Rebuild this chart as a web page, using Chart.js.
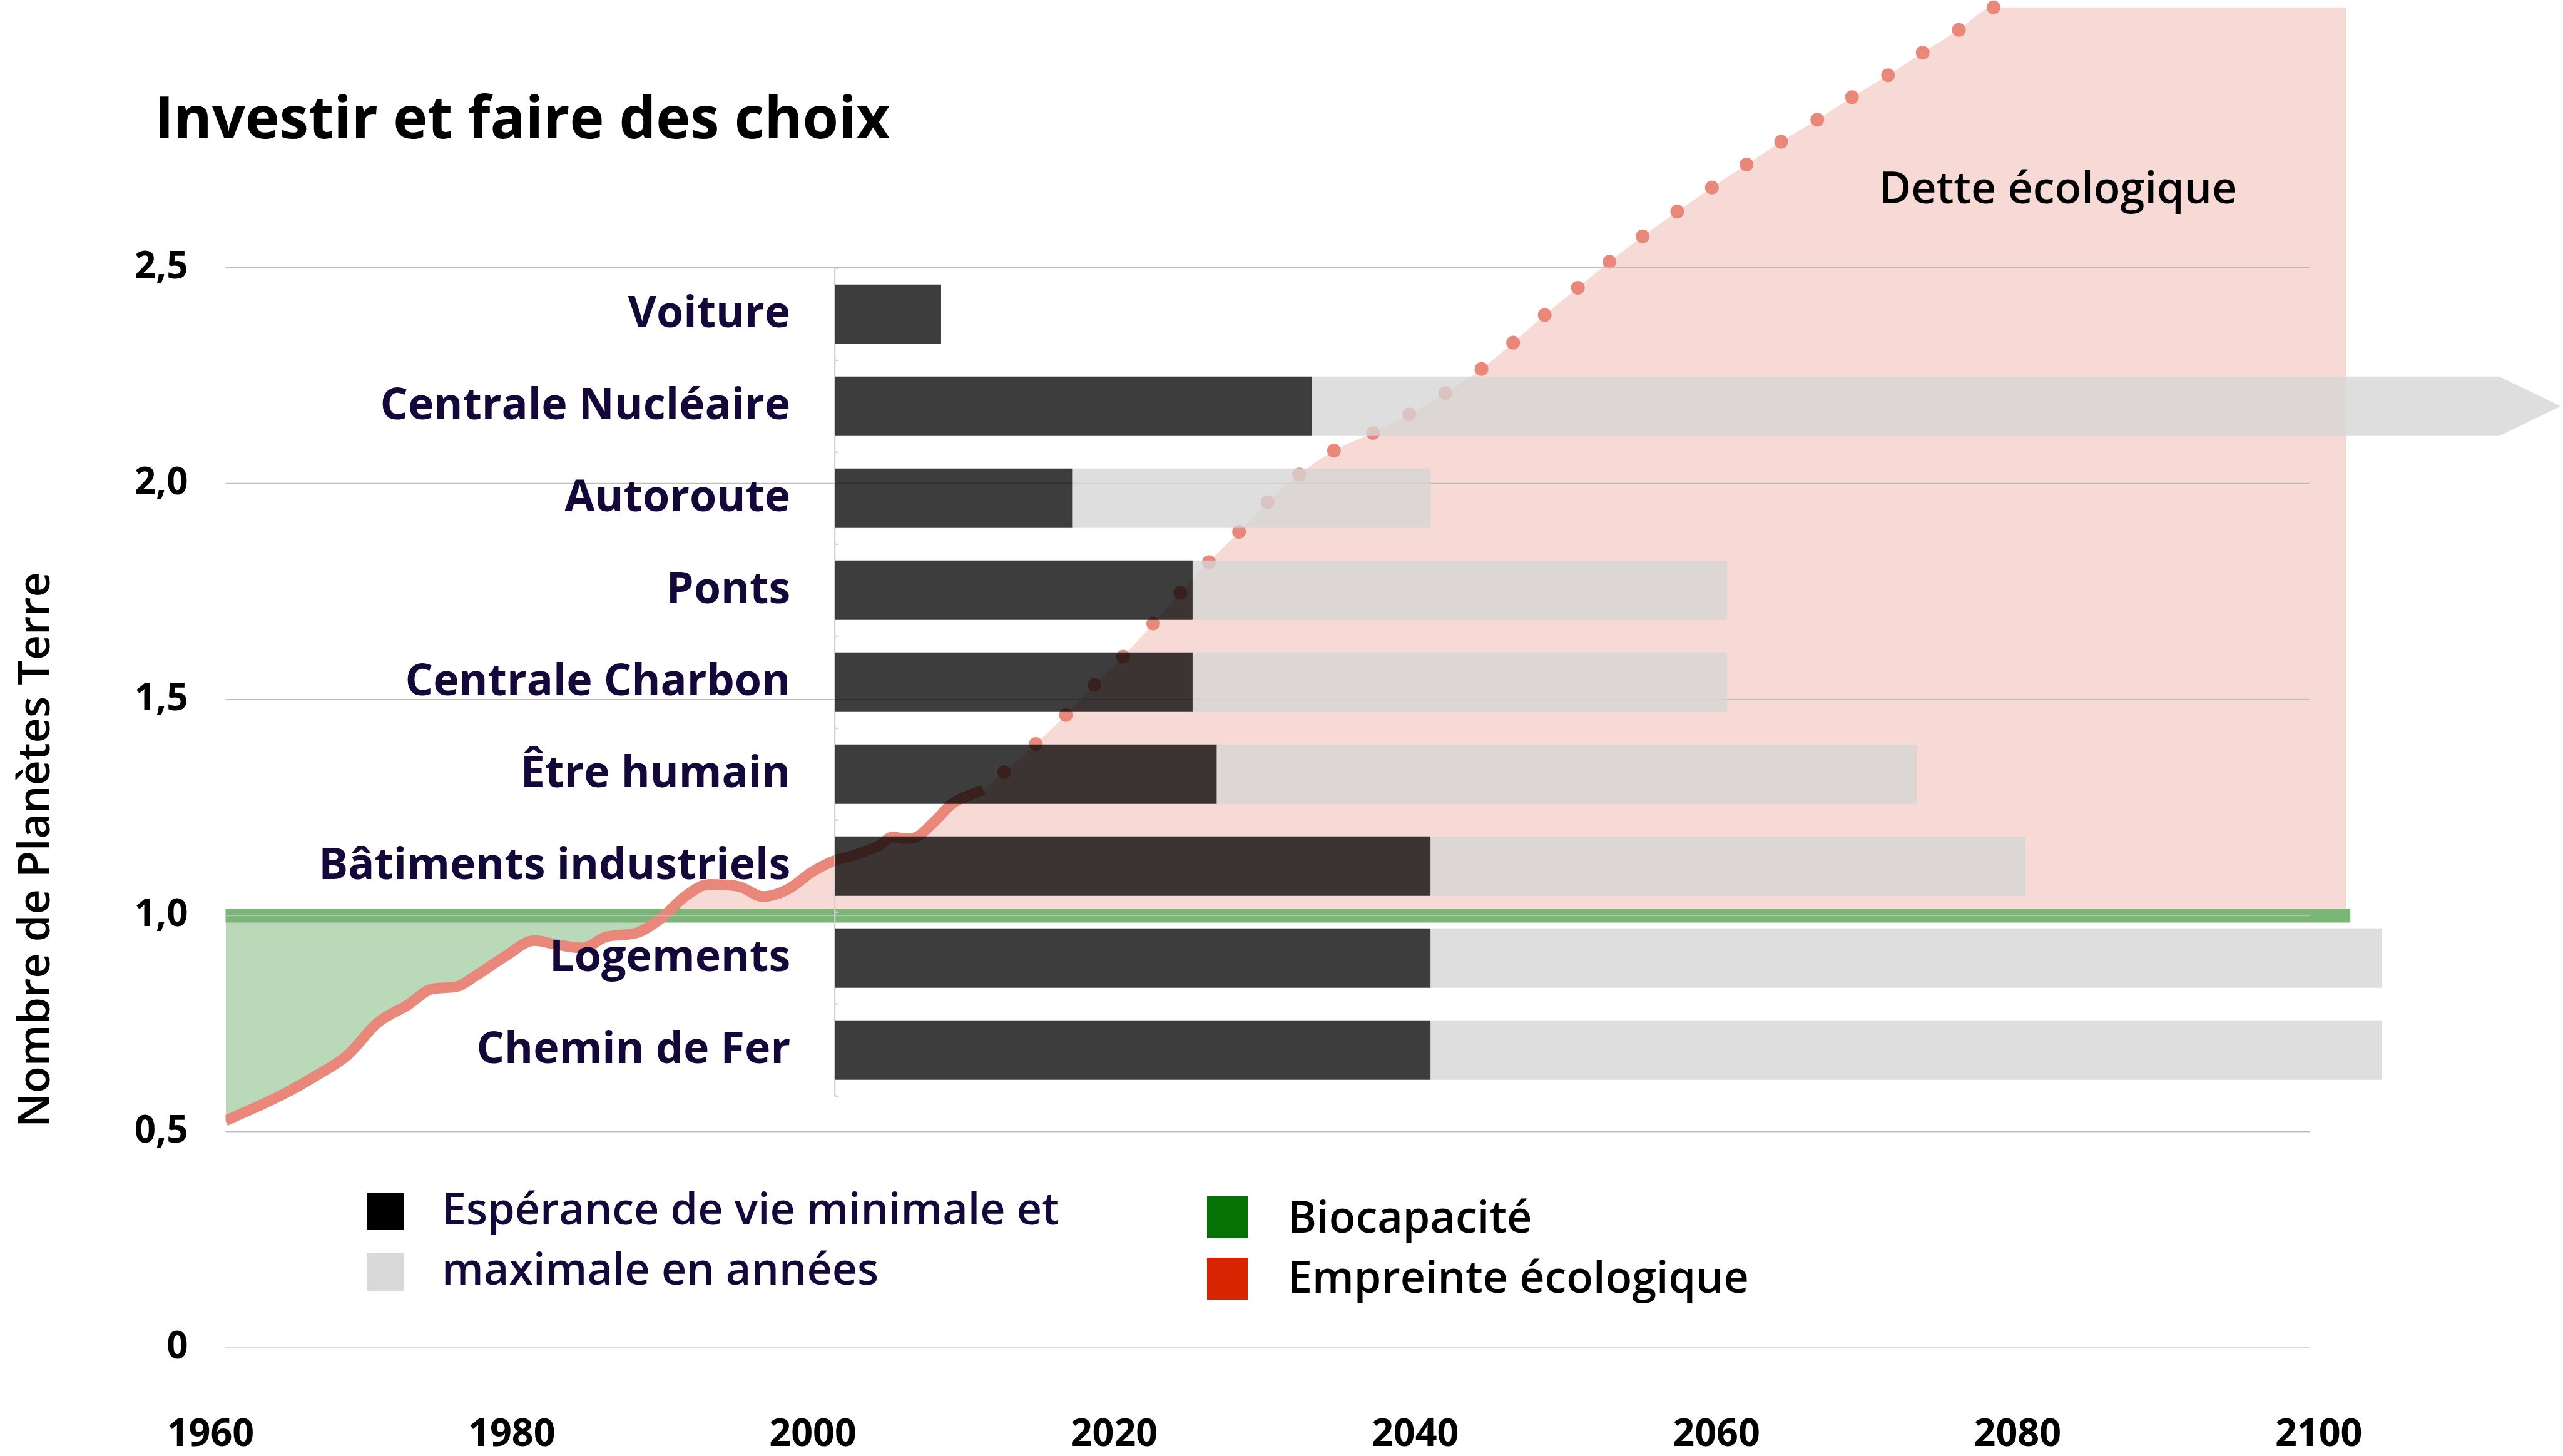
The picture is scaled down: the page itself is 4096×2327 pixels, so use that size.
<!DOCTYPE html>
<html>
<head>
  <title>Investir et faire des choix</title>
  <script src="https://cdn.jsdelivr.net/npm/chart.js"></script>
  <style>
    body {
      margin: 0;
      background-color: #fff;
    }

    .chart-container {
      position: relative;
      width: 4096px;
      height: 2327px;
    }
  </style>
</head>
<body>
<div class="chart-container">
  <canvas id="chart"></canvas>
</div>

<script>
  // Empreinte écologique, measured years (nombre de planètes Terre)
  const historyYears = [1961.0, 1964.7, 1967.1, 1969.1, 1971.1, 1973.1, 1974.7, 1976.3, 1977.5, 1979.5,
    1981.5, 1983.1, 1984.7, 1986.3, 1988.3, 1989.9, 1991.5, 1993.1, 1995.1, 1996.7,
    1998.3, 2000.0, 2001.5, 2002.6, 2004.4, 2005.3, 2006.1, 2006.9, 2008.0, 2009.3, 2011.3];
  const historyValues = [0.525, 0.584, 0.631, 0.677, 0.752, 0.793, 0.830, 0.835, 0.858, 0.904,
    0.942, 0.932, 0.925, 0.951, 0.960, 0.993, 1.044, 1.072, 1.067, 1.044,
    1.060, 1.102, 1.128, 1.138, 1.162, 1.182, 1.178, 1.182, 1.215, 1.260, 1.291];

  // projection (dotted)
  const projectionYears = [2012.7, 2014.8, 2016.8, 2018.7, 2020.6, 2022.6, 2024.4, 2026.3, 2028.3, 2030.2,
    2032.3, 2034.6, 2037.2, 2039.6, 2042.0, 2044.4, 2046.5, 2048.6, 2050.8, 2052.9,
    2055.1, 2057.4, 2059.7, 2062.0, 2064.3, 2066.7, 2069.0, 2071.4, 2073.7, 2076.1, 2078.4];
  const projectionValues = [1.332, 1.397, 1.464, 1.534, 1.599, 1.676, 1.747, 1.818, 1.888, 1.957,
    2.021, 2.076, 2.117, 2.160, 2.209, 2.265, 2.326, 2.390, 2.453, 2.513,
    2.572, 2.629, 2.685, 2.738, 2.791, 2.842, 2.894, 2.945, 2.997, 3.050, 3.102];
  const debtEndYear = 2101.8;

  const biocapacityYears = [1961, 2102.1];
  const biocapacityValue = 1;

  // life spans of investments, in calendar years
  const categories = ['Voiture', 'Centrale Nucléaire', 'Autoroute', 'Ponts', 'Centrale Charbon',
    'Être humain', 'Bâtiments industriels', 'Logements', 'Chemin de Fer'];
  const barStart = 2001.5;
  const minLifeEnd = [2008.5, 2033.1, 2017.2, 2025.2, 2025.2, 2026.8, 2041.0, 2041.0, 2041.0];
  const maxLifeEnd = [null, 2112.0, 2041.0, 2060.7, 2060.7, 2073.3, 2080.5, 2104.2, 2104.2];
  const openEnded = [false, true, false, false, false, false, false, false, false];

  const yTickValues = [0, 0.5, 1, 1.5, 2, 2.5];
  const yTickLabels = ['0', '0,5', '1,0', '1,5', '2,0', '2,5'];
  const xTickValues = [1960, 1980, 2000, 2020, 2040, 2060, 2080, 2100];

  const FONT = 'Open Sans';
  const navy = '#14083a';
  const salmon = '#e9887a';
  const darkBar = 'rgba(0,0,0,0.76)';
  const greyBar = 'rgba(213,213,213,0.78)';
  const gridEndYear = 2099.4;

  Chart.defaults.font.family = FONT;

  const history = historyYears.map((x, i) => ({x, y: historyValues[i]}));
  const projection = projectionYears.map((x, i) => ({x, y: projectionValues[i]}));
  const debtArea = [...history, ...projection,
    {x: debtEndYear, y: projectionValues[projectionValues.length - 1]}];

  const minData = categories.map((c, i) => ({x: [barStart, minLifeEnd[i]], y: i}));
  const maxData = categories
    .map((c, i) => maxLifeEnd[i] ? {x: [minLifeEnd[i], maxLifeEnd[i]], y: i} : null)
    .filter(Boolean);

  const decorations = {
    id: 'decorations',
    beforeDraw(chart) {
      chart.$gridDone = false;
    },
    // grid lines sit above the fills but under the bars
    beforeDatasetDraw(chart, args) {
      if (args.meta.type !== 'bar' || chart.$gridDone) return;
      chart.$gridDone = true;
      const {ctx, chartArea, scales: {x, y, yBars}} = chart;
      const right = x.getPixelForValue(gridEndYear);
      ctx.save();
      yTickValues.forEach(v => {
        const py = y.getPixelForValue(v);
        ctx.strokeStyle = v === 0 ? '#dadada' : '#bdbdbd';
        ctx.lineWidth = v === 0 ? 2.6 : 1.8;
        ctx.beginPath();
        ctx.moveTo(chartArea.left, py);
        ctx.lineTo(right, py);
        ctx.stroke();
      });
      // baseline of the life span bars
      const bx = x.getPixelForValue(barStart) - 1;
      ctx.strokeStyle = '#d0d0d0';
      ctx.lineWidth = 2.2;
      ctx.beginPath();
      ctx.moveTo(bx, yBars.getPixelForValue(-0.5));
      ctx.lineTo(bx, yBars.getPixelForValue(categories.length - 0.5));
      ctx.stroke();
      for (let k = 0; k <= categories.length; k++) {
        const py = yBars.getPixelForValue(k - 0.5);
        ctx.beginPath();
        ctx.moveTo(bx, py);
        ctx.lineTo(bx + 6, py);
        ctx.stroke();
      }
      ctx.restore();
    },
    // arrow head on open ended spans
    afterDatasetDraw(chart, args) {
      const ds = chart.data.datasets[args.index];
      if (ds.label !== 'maximale') return;
      const ctx = chart.ctx;
      ds.data.forEach((d, j) => {
        if (!openEnded[d.y]) return;
        const {x, y, height} = args.meta.data[j].getProps(['x', 'y', 'height'], true);
        ctx.save();
        ctx.fillStyle = greyBar;
        ctx.beginPath();
        ctx.moveTo(x, y - height / 2);
        ctx.lineTo(x + 98, y);
        ctx.lineTo(x, y + height / 2);
        ctx.closePath();
        ctx.fill();
        ctx.restore();
      });
    },
    afterDraw(chart) {
      const {ctx, scales: {x, yBars}} = chart;
      ctx.save();
      ctx.textBaseline = 'alphabetic';

      // category names
      ctx.fillStyle = navy;
      ctx.textAlign = 'right';
      ctx.font = `700 70px "${FONT}"`;
      const lx = x.getPixelForValue(barStart) - 72;
      categories.forEach((c, i) => ctx.fillText(c, lx, yBars.getPixelForValue(i) + 21));

      // title and annotation
      ctx.textAlign = 'left';
      ctx.fillStyle = '#000';
      ctx.font = `700 93px "${FONT}"`;
      ctx.fillText('Investir et faire des choix', 247, 221);
      ctx.font = `600 70px "${FONT}"`;
      ctx.fillText('Dette écologique', 3003, 325);

      // legend
      ctx.fillStyle = '#000';
      ctx.fillRect(586, 1906, 60, 60);
      ctx.fillStyle = '#d9d9d9';
      ctx.fillRect(586, 2003, 60, 60);
      ctx.fillStyle = '#047204';
      ctx.fillRect(1929, 1912, 65, 67);
      ctx.fillStyle = '#d92400';
      ctx.fillRect(1929, 2010, 65, 67);
      ctx.font = `600 70px "${FONT}"`;
      ctx.fillStyle = navy;
      ctx.fillText('Espérance de vie minimale et', 706, 1957);
      ctx.fillText('maximale en années', 706, 2053);
      ctx.fillStyle = '#000';
      ctx.fillText('Biocapacité', 2058, 1970);
      ctx.fillText('Empreinte écologique', 2058, 2066);

      // y axis title
      ctx.translate(79, 1358);
      ctx.rotate(-Math.PI / 2);
      ctx.textAlign = 'center';
      ctx.font = `600 70px "${FONT}"`;
      ctx.fillText('Nombre de Planètes Terre', 0, 0);
      ctx.restore();
    }
  };

  new Chart(document.getElementById('chart'), {
    type: 'line',
    data: {
      datasets: [
        {
          label: 'minimale', type: 'bar', indexAxis: 'y', xAxisID: 'x', yAxisID: 'yBars',
          data: minData, backgroundColor: darkBar, borderWidth: 0,
          barThickness: 94.5, grouped: false, clip: false, order: 0
        },
        {
          label: 'maximale', type: 'bar', indexAxis: 'y', xAxisID: 'x', yAxisID: 'yBars',
          data: maxData, backgroundColor: greyBar, borderWidth: 0,
          barThickness: 94.5, grouped: false, clip: false, order: 1
        },
        {
          label: 'Projection', xAxisID: 'x', yAxisID: 'y', data: projection,
          showLine: false, pointRadius: 11, pointBackgroundColor: salmon,
          pointBorderWidth: 0, clip: false, order: 2
        },
        {
          label: 'Empreinte écologique', xAxisID: 'x', yAxisID: 'y', data: history,
          borderColor: salmon, borderWidth: 17, pointRadius: 0,
          cubicInterpolationMode: 'monotone', fill: false, order: 3
        },
        {
          label: 'Biocapacité', xAxisID: 'x', yAxisID: 'y',
          data: biocapacityYears.map(x => ({x, y: biocapacityValue})),
          borderColor: 'rgb(122,182,118)', borderWidth: 22.6, borderCapStyle: 'butt',
          pointRadius: 0, fill: false, clip: false, order: 4
        },
        {
          label: 'Dette écologique', xAxisID: 'x', yAxisID: 'y', data: debtArea,
          borderWidth: 0, borderColor: 'rgba(0,0,0,0)', pointRadius: 0,
          cubicInterpolationMode: 'monotone',
          fill: {target: {value: biocapacityValue}, above: '#f7dad6', below: '#b9d9b9'},
          order: 5
        }
      ]
    },
    options: {
      responsive: true,
      maintainAspectRatio: false,
      animation: false,
      events: [],
      layout: {autoPadding: false, padding: {left: 0, right: 347, top: 0, bottom: 0}},
      plugins: {
        legend: {display: false},
        tooltip: {enabled: false}
      },
      scales: {
        x: {
          type: 'linear', axis: 'x', position: 'bottom',
          min: 1961, max: debtEndYear, bounds: 'data', offset: false,
          afterBuildTicks: s => { s.ticks = xTickValues.map(v => ({value: v})); },
          afterFit: s => { s.height = 173.2; },
          grid: {display: false, drawTicks: false},
          border: {display: false},
          ticks: {
            autoSkip: false, maxRotation: 0, padding: 103, color: '#000',
            font: {size: 61, weight: 'bold'},
            callback: v => String(v)
          }
        },
        y: {
          type: 'linear', axis: 'y', position: 'left',
          min: 0, max: 3.119, bounds: 'data', offset: false,
          afterBuildTicks: s => { s.ticks = yTickValues.map(v => ({value: v})); },
          afterFit: s => {
            s.width = 360.5;
            s.paddingTop = 0;
            s.paddingBottom = 0;
          },
          grid: {display: false, drawTicks: false},
          border: {display: false},
          ticks: {
            padding: 60, color: '#000',
            font: {size: 60, weight: 'bold'},
            callback: v => yTickLabels[yTickValues.indexOf(v)]
          }
        },
        yBars: {
          type: 'linear', axis: 'y', display: false, reverse: true, offset: false,
          min: -3.417, max: 11.235, bounds: 'data'
        }
      }
    },
    plugins: [decorations]
  });
</script>
</body>
</html>
